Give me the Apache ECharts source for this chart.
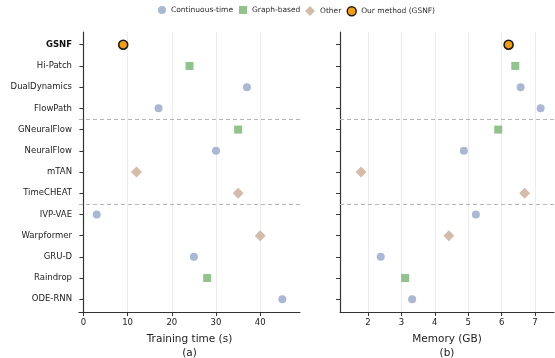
<!DOCTYPE html>
<html><head><meta charset="utf-8">
<script src="https://cdn.jsdelivr.net/npm/echarts@6/dist/echarts.min.js"></script>
<style>html,body{margin:0;padding:0;background:#fff}#c{width:555px;height:358px}</style>
</head><body><div id="c"></div>
<script>
const methods = ['GSNF','Hi-Patch','DualDynamics','FlowPath','GNeuralFlow','NeuralFlow','mTAN','TimeCHEAT','IVP-VAE','Warpformer','GRU-D','Raindrop','ODE-RNN'];
const groups = ['ours','graph','cont','cont','graph','cont','other','other','cont','other','cont','graph','cont'];
const trainTime = [9,24,37,17,35,30,12,35,3,40,25,28,45];
const memoryGB = [6.21,6.41,6.57,7.17,5.9,4.87,1.79,6.69,5.23,4.42,2.38,3.11,3.32];
const timeTicks = [0,10,20,30,40];
const memTicks = [2,3,4,5,6,7];
const separators = [3.5,7.5];

const groupDefs = [
  {key:'cont', name:'Continuous-time', symbol:'circle', size:8, legSize:8, legX:158, color:'#aab8d5', border:null},
  {key:'graph', name:'Graph-based', symbol:'rect', size:8, legSize:8, legX:239, color:'#92c38d', border:null},
  {key:'other', name:'Other', symbol:'diamond', size:11, legSize:10, legX:305, color:'#d5bba9', border:null},
  {key:'ours', name:'Our method (GSNF)', symbol:'circle', size:9, legSize:9, legX:346.5, color:'#f59d12', border:'#1a1a1a'}
];
const font = 'DejaVu Sans';
const idx = methods.map((_,i)=>i);

function makeSeries(vals, gi){
  return groupDefs.map((g,k)=>({
    type:'scatter', name:g.name, xAxisIndex:gi, yAxisIndex:gi,
    symbol:g.symbol, symbolSize:g.size,
    itemStyle:{color:g.color, opacity:1, borderColor:g.border||g.color, borderWidth:g.border?1.6:0},
    data: idx.filter(i=>groups[i]===g.key).map(i=>[vals[i], i]),
    z: g.key==='ours'?5:3,
    markLine: k===0 ? {silent:true, symbol:'none', label:{show:false},
      lineStyle:{color:'#b5b5b5', type:[4,3], width:1},
      data: separators.map(s=>({yAxis:s}))} : undefined
  }));
}

function yAxis(gi, showLabels){
  return {type:'value', gridIndex:gi, min:-0.6, max:12.6, inverse:true,
    axisLine:{show:true, lineStyle:{color:'#333', width:1.2}},
    axisTick:{show:true, length:4, customValues:idx, lineStyle:{color:'#333'}},
    axisLabel:{show:showLabels, customValues:idx, margin:7, fontFamily:font, fontSize:8.5, color:'#222',
      formatter:v=>{const n=methods[Math.round(v)]; return n==='GSNF'?'{b|'+n+'}':n;},
      rich:{b:{fontWeight:'bold', fontFamily:font, fontSize:8.5, color:'#111'}}},
    splitLine:{show:false}};
}
function xAxis(gi, min, max, ticks, title){
  return {type:'value', gridIndex:gi, min:min, max:max,
    axisLine:{show:true, onZero:false, lineStyle:{color:'#333', width:1.2}},
    axisTick:{show:true, length:4, customValues:ticks, lineStyle:{color:'#333'}},
    axisLabel:{customValues:ticks, margin:6, fontFamily:font, fontSize:8.5, color:'#222'},
    splitLine:{show:true, lineStyle:{color:'#ececec', width:1}},
    name:title, nameLocation:'middle', nameGap:17,
    nameTextStyle:{fontFamily:font, fontSize:10.5, color:'#222', lineHeight:14, verticalAlign:'top'}};
}

const chart = echarts.init(document.getElementById('c'), null, {renderer:'canvas'});
chart.setOption({
  animation:false,
  legend: groupDefs.map(g=>({top:6, left:g.legX, itemWidth:g.legSize, itemHeight:g.legSize, itemGap:0,
    padding:0, textStyle:{fontFamily:font, fontSize:7.5, color:'#2a2a2a', padding:[0,0,0,0]},
    data:[{name:g.name, icon:g.symbol, itemStyle: g.border?{borderColor:g.border,borderWidth:1.4}:undefined}]})),
  grid:[{left:79, top:32, width:221, height:280, outerBoundsMode:'none', containLabel:false},
        {left:340, top:32, width:214, height:280, outerBoundsMode:'none', containLabel:false}],
  xAxis:[xAxis(0,-1,49,timeTicks,'Training time (s)\n(a)'), xAxis(1,1.16,7.57,memTicks,'Memory (GB)\n(b)')],
  yAxis:[yAxis(0,true), yAxis(1,false)],
  series: makeSeries(trainTime,0).concat(makeSeries(memoryGB,1))
});
</script></body></html>
